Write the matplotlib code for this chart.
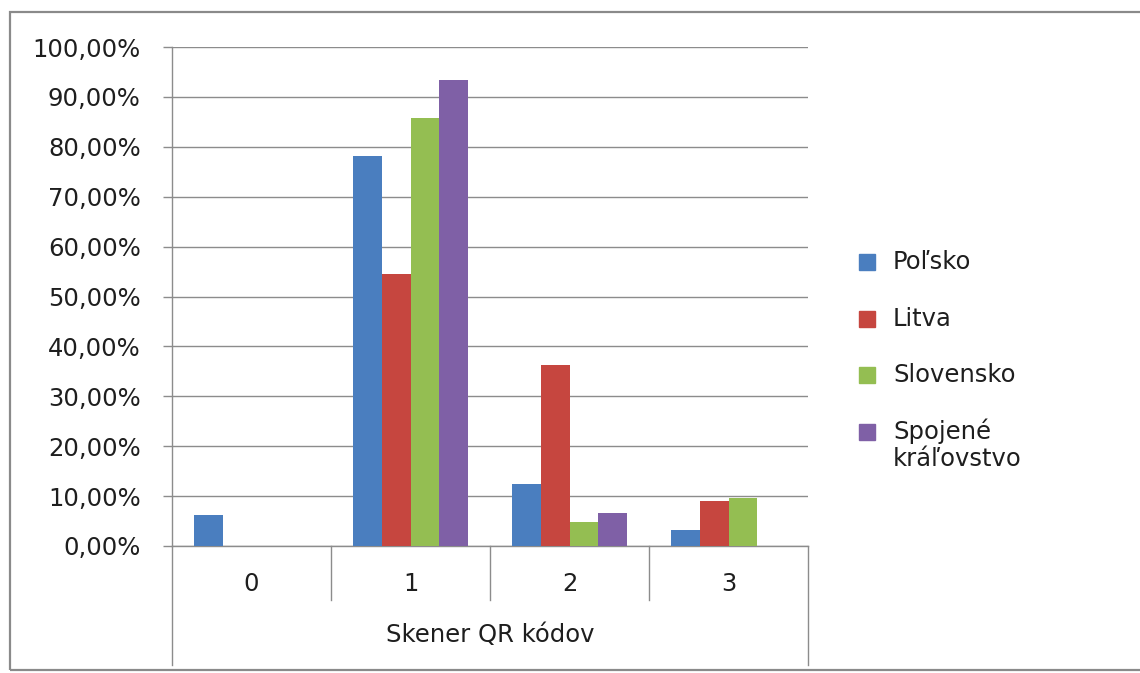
import matplotlib.pyplot as plt
from matplotlib.patches import Rectangle

# data
categories = ['0', '1', '2', '3']
series_names = ['Poľsko', 'Litva', 'Slovensko', 'Spojené\nkráľovstvo']
polsko = [0.0625, 0.78125, 0.125, 0.03125]
litva = [0.0, 0.5455, 0.3636, 0.0909]
slovensko = [0.0, 0.8571, 0.0476, 0.0952]
spojene = [0.0, 0.9333, 0.0667, 0.0]
y_ticks = [0.0, 0.1, 0.2, 0.3, 0.4, 0.5, 0.6, 0.7, 0.8, 0.9, 1.0]
y_labels = ['0,00%', '10,00%', '20,00%', '30,00%', '40,00%', '50,00%',
            '60,00%', '70,00%', '80,00%', '90,00%', '100,00%']
x_title = 'Skener QR kódov'

colors = ['#4A7EBF', '#C6463F', '#94BE52', '#7F60A6']
txt_col = '#1E1E1E'
fs = 17.5
plt.rcParams['font.family'] = ['DejaVu Sans']

W, H = 1140, 673
fig = plt.figure(figsize=(W / 100, H / 100), dpi=100)
ax = fig.add_axes([172 / W, (H - 546) / H, (808 - 172) / W, (546 - 47) / H])

# bars
w = 1 / 5.5
xs = range(len(categories))
for i, vals in enumerate([polsko, litva, slovensko, spojene]):
    ax.bar([x + (i - 1.5) * w for x in xs], vals, width=w, color=colors[i], zorder=3)

ax.set_xlim(-0.5, 3.5)
ax.set_ylim(0, 1)
ax.set_yticks(y_ticks)
ax.set_yticklabels(y_labels, fontsize=fs, color=txt_col)
ax.yaxis.grid(True, color='#8C8C8C', linewidth=1.0, zorder=0)
ax.tick_params(axis='y', length=9 * 0.72, width=1.0, color='#8C8C8C', pad=16)

ax.set_xticks(list(xs))
ax.set_xticklabels(categories, fontsize=fs, color=txt_col)
ax.tick_params(axis='x', length=0, pad=19)

for s in ['top', 'right']:
    ax.spines[s].set_visible(False)
for s in ['left', 'bottom']:
    ax.spines[s].set_color('#8C8C8C')
    ax.spines[s].set_linewidth(1.0)

# category separators (multi-level axis look)
trans = ax.get_xaxis_transform()
for b in [0.5, 1.5, 2.5]:
    ax.plot([b, b], [0, -54 / 499], color='#8C8C8C', lw=1.0, transform=trans, clip_on=False)
for b in [-0.5, 3.5]:
    ax.plot([b, b], [0, -119 / 499], color='#8C8C8C', lw=1.0, transform=trans, clip_on=False)

ax.text(0.5, -89 / 499, x_title, transform=ax.transAxes, ha='center', va='center',
        fontsize=fs, color=txt_col)

# legend (drawn by hand so the two-line entry keeps its marker on the first line)
sq = 16
for i, name in enumerate(series_names):
    yc = 262 + i * 56.5
    fig.patches.append(Rectangle((859 / W, (H - yc - sq / 2) / H), sq / W, sq / H,
                                 transform=fig.transFigure, color=colors[i]))
    for k, line in enumerate(name.split('\n')):
        fig.text(893 / W, (H - yc - k * 28) / H, line, ha='left', va='center',
                 fontsize=fs, color=txt_col)

# outer chart frame
fig.patches.append(Rectangle((10 / W, (H - 670) / H), 1.2, (670 - 12) / H,
                             transform=fig.transFigure, fill=False,
                             edgecolor='#8A8A8A', linewidth=1.6))

plt.savefig('out.png', dpi=100)
